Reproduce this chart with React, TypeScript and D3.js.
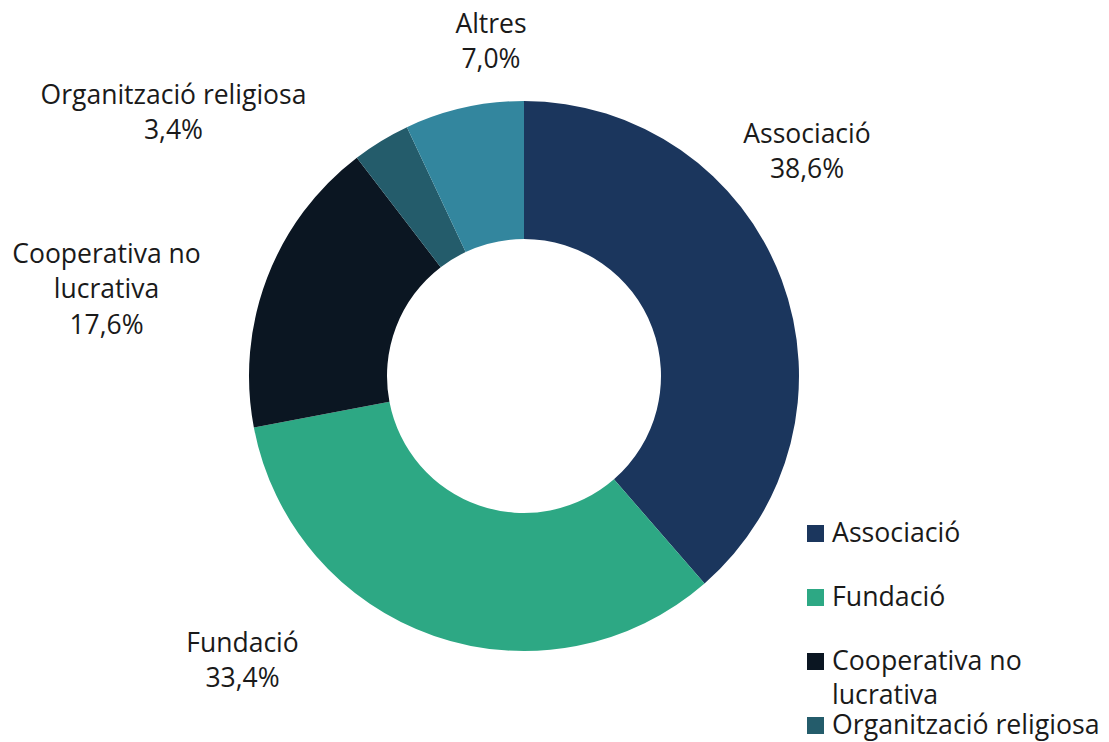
import React from "react";
import * as d3 from "d3";

const categories = ["Associació", "Fundació", "Cooperativa no lucrativa", "Organització religiosa", "Altres"];
const values = [38.6, 33.4, 17.6, 3.4, 7.0];
const colors = ["#1B365D", "#2DA884", "#0B1622", "#245C6B", "#33869E"];
const labelLines = [["Associació"], ["Fundació"], ["Cooperativa no", "lucrativa"], ["Organització religiosa"], ["Altres"]];
const legendLines = [["Associació"], ["Fundació"], ["Cooperativa no", "lucrativa"], ["Organització religiosa"], ["Altres"]];

const W = 1109, H = 742;
const cx = 524, cy = 376, R = 275, r = 137;
const labelPos: [number, number][] = [[807, 143], [242.5, 652], [106.5, 263], [173.5, 103.5], [491, 33]];

export default function App() {
  const data = categories.map((c, i) => ({ c, v: values[i], i }));
  const pie = d3.pie<any>().value((d) => d.v).sort(null);
  const arcs = pie(data);
  const arc = d3.arc<any>().innerRadius(r).outerRadius(R);
  const fmt = (v: number) => v.toFixed(1).replace(".", ",") + "%";
  const font = "'Open Sans', sans-serif";
  return (
    <svg width={W} height={H} style={{ position: "absolute", left: 0, top: 0 }} fontFamily={font}>
      <rect width={W} height={H} fill="#fff" />
      <g transform={`translate(${cx},${cy})`}>
        {arcs.map((a, i) => (
          <path key={i} d={arc(a) as string} fill={colors[i]} />
        ))}
      </g>
      {arcs.map((a, i) => {
        const [x, y] = labelPos[i];
        const lines = [...labelLines[i], fmt(values[i])];
        return (
          <text key={i} x={x} y={y} textAnchor="middle" fontSize={26.5} fill="#1a1a1a">
            {lines.map((l, j) => (
              <tspan key={j} x={x} dy={j === 0 ? 0 : 35.3}>{l}</tspan>
            ))}
          </text>
        );
      })}
      {categories.map((c, i) => {
        const base = 542 + i * 64;
        return (
          <g key={i}>
            <rect x={807} y={base - 17} width={17} height={17} fill={colors[i]} />
            <text x={832} y={base} fontSize={26.7} fill="#1a1a1a">
              {legendLines[i].map((l, j) => (
                <tspan key={j} x={832} dy={j === 0 ? 0 : 34}>{l}</tspan>
              ))}
            </text>
          </g>
        );
      })}
    </svg>
  );
}
